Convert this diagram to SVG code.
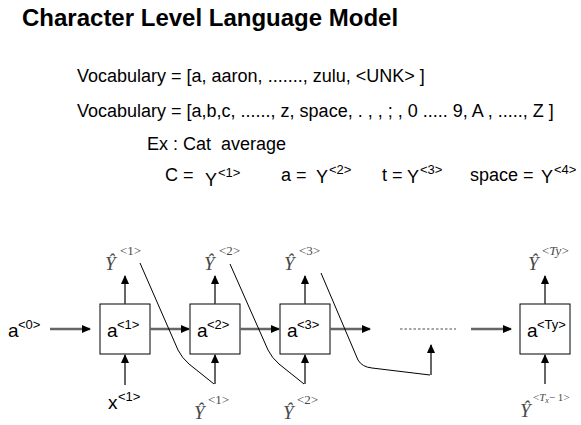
<svg xmlns="http://www.w3.org/2000/svg" width="581" height="425" viewBox="0 0 581 425">
<style>
.s{font-family:"Liberation Sans",Arial,sans-serif;fill:#000}
.title{font-weight:bold;font-size:24px}
.body{font-size:18px}
.sup{font-size:13px}
.big{font-size:19px}
.m{font-family:"Liberation Serif","Times New Roman",serif;fill:#4a4a4a}
.mY{font-style:italic;font-size:19px}
.ms{font-size:13px}
.it{font-style:italic}
.box{fill:#fff;stroke:#000;stroke-width:1}
.h{stroke:#666;stroke-width:2.5;fill:none}
.v{stroke:#333;stroke-width:1.5;fill:none}
.c{stroke:#000;stroke-width:1;fill:none}
</style>
<defs>
<marker id="ah" markerUnits="userSpaceOnUse" markerWidth="9" markerHeight="8" refX="8" refY="4" orient="auto">
<path d="M0,0 L9,4 L0,8 z" fill="#000"/>
</marker>
</defs>
<rect width="581" height="425" fill="#fff"/>

<g id="text">
<text class="s title" x="22" y="26">Character Level Language Model</text>
<text class="s body" x="77" y="82">Vocabulary = [a, aaron, ......., zulu, &lt;UNK&gt; ]</text>
<text class="s body" x="77" y="117">Vocabulary = [a,b,c, ......, z, space, . , , ; , 0 ..... 9, A , ....., Z ]</text>
<text class="s body" x="147" y="150" xml:space="preserve">Ex : Cat  average</text>
<text class="s body" x="165" y="181">C =</text>
<text class="s body" x="205" y="186">Y</text>
<text class="s sup" x="218" y="177">&lt;1&gt;</text>
<text class="s body" x="281" y="181">a =</text>
<text class="s body" x="316" y="183">Y</text>
<text class="s sup" x="329" y="174">&lt;2&gt;</text>
<text class="s body" x="382" y="181">t =</text>
<text class="s body" x="407" y="183">Y</text>
<text class="s sup" x="420" y="174">&lt;3&gt;</text>
<text class="s body" x="470" y="181">space =</text>
<text class="s body" x="541" y="183">Y</text>
<text class="s sup" x="554" y="174">&lt;4&gt;</text>
</g>

<g id="a0">
<text class="s big" x="8" y="337">a</text>
<text class="s sup" x="18" y="329">&lt;0&gt;</text>
</g>

<g id="cell1">
<rect class="box" x="100" y="304" width="50" height="50"/>
<text class="s big" x="107" y="337">a</text>
<text class="s sup" x="117" y="329">&lt;1&gt;</text>
</g>
<g id="cell2">
<rect class="box" x="190" y="304" width="50" height="50"/>
<text class="s big" x="197" y="337">a</text>
<text class="s sup" x="207" y="329">&lt;2&gt;</text>
</g>
<g id="cell3">
<rect class="box" x="280" y="304" width="50" height="50"/>
<text class="s big" x="287" y="337">a</text>
<text class="s sup" x="297" y="329">&lt;3&gt;</text>
</g>
<g id="cellTy">
<rect class="box" x="520" y="304" width="50" height="50"/>
<text class="s big" x="527" y="337">a</text>
<text class="s sup" x="537" y="329">&lt;Ty&gt;</text>
</g>

<g id="yhat-top1">
<text class="m mY" x="105" y="270">Ŷ</text>
<text class="m ms" x="120" y="255">&lt;1&gt;</text>
</g>
<g id="yhat-top2">
<text class="m mY" x="204" y="270">Ŷ</text>
<text class="m ms" x="219" y="255">&lt;2&gt;</text>
</g>
<g id="yhat-top3">
<text class="m mY" x="284" y="270">Ŷ</text>
<text class="m ms" x="299" y="255">&lt;3&gt;</text>
</g>
<g id="yhat-topTy">
<text class="m mY" x="528" y="270">Ŷ</text>
<text class="m ms" x="542" y="255">&lt;<tspan class="it">Ty</tspan>&gt;</text>
</g>

<g id="x1">
<text class="s big" x="108" y="409">x</text>
<text class="s sup" x="118" y="401">&lt;1&gt;</text>
</g>
<g id="yhat-bot1">
<text class="m mY" x="194" y="419">Ŷ</text>
<text class="m ms" x="208" y="404">&lt;1&gt;</text>
</g>
<g id="yhat-bot2">
<text class="m mY" x="283" y="419">Ŷ</text>
<text class="m ms" x="297" y="404">&lt;2&gt;</text>
</g>
<g id="yhat-botTx">
<text class="m mY" x="520" y="417">Ŷ</text>
<text class="m" x="533" y="401" font-size="11">&lt;<tspan class="it">T</tspan><tspan class="it" font-size="8" dy="2">x</tspan><tspan dy="-2">− 1</tspan>&gt;</text>
</g>

<g id="connectors">
<line class="h" x1="50" y1="329" x2="90" y2="329" marker-end="url(#ah)"/>
<line class="h" x1="150" y1="329" x2="189" y2="329" marker-end="url(#ah)"/>
<line class="h" x1="240" y1="329" x2="279" y2="329" marker-end="url(#ah)"/>
<line class="h" x1="330" y1="329" x2="370" y2="329" marker-end="url(#ah)"/>
<line x1="400" y1="329" x2="456" y2="329" stroke="#888" stroke-width="1.5" stroke-dasharray="2.5,2"/>
<line class="h" x1="471" y1="329" x2="511" y2="329" marker-end="url(#ah)"/>

<line class="v" x1="125" y1="304" x2="125" y2="276" marker-end="url(#ah)"/>
<line class="v" x1="215" y1="304" x2="215" y2="276" marker-end="url(#ah)"/>
<line class="v" x1="305" y1="304" x2="305" y2="276" marker-end="url(#ah)"/>
<line class="v" x1="545" y1="304" x2="545" y2="276" marker-end="url(#ah)"/>

<line class="v" x1="125" y1="385" x2="125" y2="355" marker-end="url(#ah)"/>
<line class="v" x1="215" y1="384" x2="215" y2="355" marker-end="url(#ah)"/>
<line class="v" x1="305" y1="384" x2="305" y2="355" marker-end="url(#ah)"/>
<line class="v" x1="545" y1="384" x2="545" y2="355" marker-end="url(#ah)"/>
<line class="v" x1="431" y1="375" x2="431" y2="345" marker-end="url(#ah)"/>

<path class="c" d="M140,263 L178,350 Q182,358 189,364 L214,384"/>
<path class="c" d="M230,264 L268,350 Q272,358 279,364 L304,384"/>
<path class="c" d="M321,273 L358,360 Q362,367 372,368 L430,375"/>
</g>
</svg>
